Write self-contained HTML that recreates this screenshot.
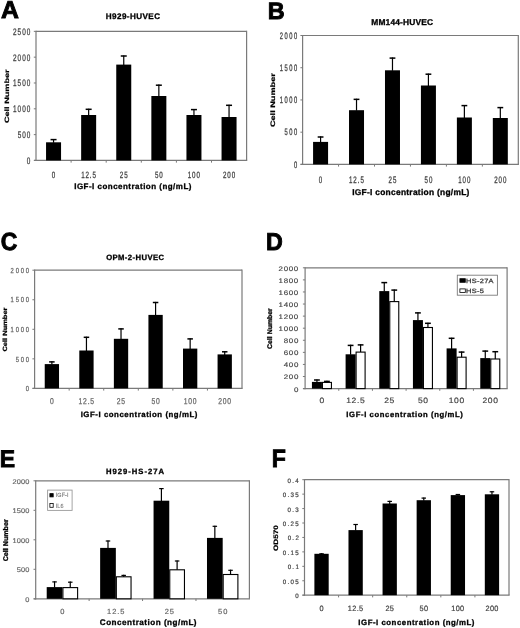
<!DOCTYPE html>
<html><head><meta charset="utf-8"><style>
html,body{margin:0;padding:0;background:#fff;}
svg{display:block;font-family:"Liberation Sans", sans-serif;will-change:transform;text-rendering:geometricPrecision;filter:blur(0.4px);}
</style></head><body>
<svg width="520" height="628" viewBox="0 0 520 628">
<rect width="520" height="628" fill="#fff"/>
<line x1="36.00" y1="31.35" x2="246.60" y2="31.35" stroke="#7a7a7a" stroke-width="1.2"/>
<line x1="246.60" y1="30.75" x2="246.60" y2="160.45" stroke="#7a7a7a" stroke-width="1.2"/>
<line x1="36.00" y1="30.75" x2="36.00" y2="161.05" stroke="#7a7a7a" stroke-width="1.2"/>
<line x1="34.00" y1="160.45" x2="247.20" y2="160.45" stroke="#7a7a7a" stroke-width="1.2"/>
<line x1="33.80" y1="160.45" x2="36.00" y2="160.45" stroke="#7a7a7a" stroke-width="1"/>
<text transform="translate(26.70,163.86) scale(0.6800,1)" font-size="9.437" fill="#444" letter-spacing="1.422" stroke="#444" stroke-width="0.294">0</text>
<line x1="33.80" y1="134.63" x2="36.00" y2="134.63" stroke="#7a7a7a" stroke-width="1"/>
<text transform="translate(17.64,138.04) scale(0.6800,1)" font-size="9.437" fill="#444" letter-spacing="1.422" stroke="#444" stroke-width="0.294">500</text>
<line x1="33.80" y1="108.81" x2="36.00" y2="108.81" stroke="#7a7a7a" stroke-width="1"/>
<text transform="translate(13.08,112.22) scale(0.6800,1)" font-size="9.437" fill="#444" letter-spacing="1.422" stroke="#444" stroke-width="0.294">1000</text>
<line x1="33.80" y1="82.99" x2="36.00" y2="82.99" stroke="#7a7a7a" stroke-width="1"/>
<text transform="translate(13.08,86.40) scale(0.6800,1)" font-size="9.437" fill="#444" letter-spacing="1.422" stroke="#444" stroke-width="0.294">1500</text>
<line x1="33.80" y1="57.17" x2="36.00" y2="57.17" stroke="#7a7a7a" stroke-width="1"/>
<text transform="translate(13.08,60.58) scale(0.6800,1)" font-size="9.437" fill="#444" letter-spacing="1.422" stroke="#444" stroke-width="0.294">2000</text>
<line x1="33.80" y1="31.35" x2="36.00" y2="31.35" stroke="#7a7a7a" stroke-width="1"/>
<text transform="translate(13.08,34.76) scale(0.6800,1)" font-size="9.437" fill="#444" letter-spacing="1.422" stroke="#444" stroke-width="0.294">2500</text>
<line x1="71.10" y1="160.45" x2="71.10" y2="162.65" stroke="#7a7a7a" stroke-width="1"/>
<line x1="106.20" y1="160.45" x2="106.20" y2="162.65" stroke="#7a7a7a" stroke-width="1"/>
<line x1="141.30" y1="160.45" x2="141.30" y2="162.65" stroke="#7a7a7a" stroke-width="1"/>
<line x1="176.40" y1="160.45" x2="176.40" y2="162.65" stroke="#7a7a7a" stroke-width="1"/>
<line x1="211.50" y1="160.45" x2="211.50" y2="162.65" stroke="#7a7a7a" stroke-width="1"/>
<rect x="46.05" y="142.30" width="15.00" height="18.15" fill="#000"/>
<line x1="53.55" y1="139.00" x2="53.55" y2="142.80" stroke="#000" stroke-width="1.2"/>
<line x1="50.55" y1="139.60" x2="56.55" y2="139.60" stroke="#000" stroke-width="1.5"/>
<rect x="81.15" y="115.00" width="15.00" height="45.45" fill="#000"/>
<line x1="88.65" y1="108.70" x2="88.65" y2="115.50" stroke="#000" stroke-width="1.2"/>
<line x1="85.65" y1="109.30" x2="91.65" y2="109.30" stroke="#000" stroke-width="1.5"/>
<rect x="116.25" y="64.60" width="15.00" height="95.85" fill="#000"/>
<line x1="123.75" y1="55.40" x2="123.75" y2="65.10" stroke="#000" stroke-width="1.2"/>
<line x1="120.75" y1="56.00" x2="126.75" y2="56.00" stroke="#000" stroke-width="1.5"/>
<rect x="151.35" y="96.00" width="15.00" height="64.45" fill="#000"/>
<line x1="158.85" y1="84.60" x2="158.85" y2="96.50" stroke="#000" stroke-width="1.2"/>
<line x1="155.85" y1="85.20" x2="161.85" y2="85.20" stroke="#000" stroke-width="1.5"/>
<rect x="186.45" y="115.00" width="15.00" height="45.45" fill="#000"/>
<line x1="193.95" y1="109.00" x2="193.95" y2="115.50" stroke="#000" stroke-width="1.2"/>
<line x1="190.95" y1="109.60" x2="196.95" y2="109.60" stroke="#000" stroke-width="1.5"/>
<rect x="221.55" y="117.00" width="15.00" height="43.45" fill="#000"/>
<line x1="229.05" y1="104.70" x2="229.05" y2="117.50" stroke="#000" stroke-width="1.2"/>
<line x1="226.05" y1="105.30" x2="232.05" y2="105.30" stroke="#000" stroke-width="1.5"/>
<text transform="translate(51.82,177.91) scale(0.6800,1)" font-size="9.155" fill="#444" letter-spacing="1.327" stroke="#444" stroke-width="0.294">0</text>
<text transform="translate(81.13,177.91) scale(0.6800,1)" font-size="9.155" fill="#444" letter-spacing="1.327" stroke="#444" stroke-width="0.294">12.5</text>
<text transform="translate(119.81,177.91) scale(0.6800,1)" font-size="9.155" fill="#444" letter-spacing="1.327" stroke="#444" stroke-width="0.294">25</text>
<text transform="translate(154.94,177.91) scale(0.6800,1)" font-size="9.155" fill="#444" letter-spacing="1.327" stroke="#444" stroke-width="0.294">50</text>
<text transform="translate(187.76,177.91) scale(0.6800,1)" font-size="9.155" fill="#444" letter-spacing="1.327" stroke="#444" stroke-width="0.294">100</text>
<text transform="translate(222.93,177.91) scale(0.6800,1)" font-size="9.155" fill="#444" letter-spacing="1.327" stroke="#444" stroke-width="0.294">200</text>
<text transform="translate(0.98,18.40) scale(1.0207,1)" font-size="24.348" font-weight="bold" fill="#000" stroke="#000" stroke-width="0.9">A</text>
<text transform="translate(105.82,18.75) scale(1.0000,1)" font-size="8.116" font-weight="bold" fill="#000" stroke="#000" stroke-width="0.3" letter-spacing="0.417">H929-HUVEC</text>
<text transform="translate(74.23,188.95) scale(1.0000,1)" font-size="7.971" font-weight="bold" fill="#000" stroke="#000" stroke-width="0.3" letter-spacing="0.488">IGF-I concentration (ng/mL)</text>
<text transform="translate(8.75,123.12) rotate(-90) scale(1.4614,1)" font-size="6.262" font-weight="bold" fill="#000" stroke="#000" stroke-width="0.205">Cell Number</text>
<line x1="302.60" y1="35.50" x2="518.30" y2="35.50" stroke="#7a7a7a" stroke-width="1.2"/>
<line x1="518.30" y1="34.90" x2="518.30" y2="164.40" stroke="#7a7a7a" stroke-width="1.2"/>
<line x1="302.60" y1="34.90" x2="302.60" y2="165.00" stroke="#7a7a7a" stroke-width="1.2"/>
<line x1="300.60" y1="164.40" x2="518.90" y2="164.40" stroke="#7a7a7a" stroke-width="1.2"/>
<line x1="300.40" y1="164.40" x2="302.60" y2="164.40" stroke="#7a7a7a" stroke-width="1"/>
<text transform="translate(294.03,167.71) scale(0.6200,1)" font-size="9.296" fill="#444" letter-spacing="2.471" stroke="#444" stroke-width="0.323">0</text>
<line x1="300.40" y1="132.18" x2="302.60" y2="132.18" stroke="#7a7a7a" stroke-width="1"/>
<text transform="translate(284.57,135.48) scale(0.6200,1)" font-size="9.296" fill="#444" letter-spacing="2.471" stroke="#444" stroke-width="0.323">500</text>
<line x1="300.40" y1="99.95" x2="302.60" y2="99.95" stroke="#7a7a7a" stroke-width="1"/>
<text transform="translate(279.81,103.26) scale(0.6200,1)" font-size="9.296" fill="#444" letter-spacing="2.471" stroke="#444" stroke-width="0.323">1000</text>
<line x1="300.40" y1="67.72" x2="302.60" y2="67.72" stroke="#7a7a7a" stroke-width="1"/>
<text transform="translate(279.81,71.03) scale(0.6200,1)" font-size="9.296" fill="#444" letter-spacing="2.471" stroke="#444" stroke-width="0.323">1500</text>
<line x1="300.40" y1="35.50" x2="302.60" y2="35.50" stroke="#7a7a7a" stroke-width="1"/>
<text transform="translate(279.81,38.81) scale(0.6200,1)" font-size="9.296" fill="#444" letter-spacing="2.471" stroke="#444" stroke-width="0.323">2000</text>
<line x1="338.55" y1="164.40" x2="338.55" y2="166.60" stroke="#7a7a7a" stroke-width="1"/>
<line x1="374.50" y1="164.40" x2="374.50" y2="166.60" stroke="#7a7a7a" stroke-width="1"/>
<line x1="410.45" y1="164.40" x2="410.45" y2="166.60" stroke="#7a7a7a" stroke-width="1"/>
<line x1="446.40" y1="164.40" x2="446.40" y2="166.60" stroke="#7a7a7a" stroke-width="1"/>
<line x1="482.35" y1="164.40" x2="482.35" y2="166.60" stroke="#7a7a7a" stroke-width="1"/>
<rect x="313.08" y="141.90" width="15.00" height="22.50" fill="#000"/>
<line x1="320.58" y1="136.40" x2="320.58" y2="142.40" stroke="#000" stroke-width="1.2"/>
<line x1="317.68" y1="137.00" x2="323.48" y2="137.00" stroke="#000" stroke-width="1.5"/>
<rect x="349.02" y="110.20" width="15.00" height="54.20" fill="#000"/>
<line x1="356.52" y1="98.75" x2="356.52" y2="110.70" stroke="#000" stroke-width="1.2"/>
<line x1="353.62" y1="99.35" x2="359.42" y2="99.35" stroke="#000" stroke-width="1.5"/>
<rect x="384.98" y="70.30" width="15.00" height="94.10" fill="#000"/>
<line x1="392.48" y1="57.50" x2="392.48" y2="70.80" stroke="#000" stroke-width="1.2"/>
<line x1="389.58" y1="58.10" x2="395.38" y2="58.10" stroke="#000" stroke-width="1.5"/>
<rect x="420.92" y="85.50" width="15.00" height="78.90" fill="#000"/>
<line x1="428.42" y1="73.60" x2="428.42" y2="86.00" stroke="#000" stroke-width="1.2"/>
<line x1="425.52" y1="74.20" x2="431.32" y2="74.20" stroke="#000" stroke-width="1.5"/>
<rect x="456.88" y="117.50" width="15.00" height="46.90" fill="#000"/>
<line x1="464.38" y1="105.00" x2="464.38" y2="118.00" stroke="#000" stroke-width="1.2"/>
<line x1="461.48" y1="105.60" x2="467.27" y2="105.60" stroke="#000" stroke-width="1.5"/>
<rect x="492.82" y="118.00" width="15.00" height="46.40" fill="#000"/>
<line x1="500.32" y1="107.00" x2="500.32" y2="118.50" stroke="#000" stroke-width="1.2"/>
<line x1="497.42" y1="107.60" x2="503.22" y2="107.60" stroke="#000" stroke-width="1.5"/>
<text transform="translate(318.87,182.51) scale(0.6500,1)" font-size="9.437" fill="#444" letter-spacing="1.577" stroke="#444" stroke-width="0.308">0</text>
<text transform="translate(348.91,182.51) scale(0.6500,1)" font-size="9.437" fill="#444" letter-spacing="1.577" stroke="#444" stroke-width="0.308">12.5</text>
<text transform="translate(388.53,182.51) scale(0.6500,1)" font-size="9.437" fill="#444" letter-spacing="1.577" stroke="#444" stroke-width="0.308">25</text>
<text transform="translate(424.51,182.51) scale(0.6500,1)" font-size="9.437" fill="#444" letter-spacing="1.577" stroke="#444" stroke-width="0.308">50</text>
<text transform="translate(458.14,182.51) scale(0.6500,1)" font-size="9.437" fill="#444" letter-spacing="1.577" stroke="#444" stroke-width="0.308">100</text>
<text transform="translate(494.16,182.51) scale(0.6500,1)" font-size="9.437" fill="#444" letter-spacing="1.577" stroke="#444" stroke-width="0.308">200</text>
<text transform="translate(267.73,18.75) scale(0.9863,1)" font-size="23.768" font-weight="bold" fill="#000" stroke="#000" stroke-width="0.9">B</text>
<text transform="translate(371.30,25.35) scale(1.0000,1)" font-size="8.406" font-weight="bold" fill="#000" stroke="#000" stroke-width="0.3" letter-spacing="0.153">MM144-HUVEC</text>
<text transform="translate(352.20,194.95) scale(1.0000,1)" font-size="8.406" font-weight="bold" fill="#000" stroke="#000" stroke-width="0.3" letter-spacing="0.274">IGF-I concentration (ng/mL)</text>
<text transform="translate(274.95,127.12) rotate(-90) scale(1.4170,1)" font-size="6.483" font-weight="bold" fill="#000" stroke="#000" stroke-width="0.212">Cell Number</text>
<line x1="34.60" y1="270.20" x2="242.00" y2="270.20" stroke="#7a7a7a" stroke-width="1.2"/>
<line x1="242.00" y1="269.60" x2="242.00" y2="388.40" stroke="#7a7a7a" stroke-width="1.2"/>
<line x1="34.60" y1="269.60" x2="34.60" y2="389.00" stroke="#7a7a7a" stroke-width="1.2"/>
<line x1="32.60" y1="388.40" x2="242.60" y2="388.40" stroke="#7a7a7a" stroke-width="1.2"/>
<line x1="32.40" y1="388.40" x2="34.60" y2="388.40" stroke="#7a7a7a" stroke-width="1"/>
<text transform="translate(25.68,391.13) scale(0.8000,1)" font-size="7.324" fill="#666" letter-spacing="2.204" stroke="#666" stroke-width="0.250">0</text>
<line x1="32.40" y1="358.85" x2="34.60" y2="358.85" stroke="#7a7a7a" stroke-width="1"/>
<text transform="translate(15.65,361.58) scale(0.8000,1)" font-size="7.324" fill="#666" letter-spacing="2.204" stroke="#666" stroke-width="0.250">500</text>
<line x1="32.40" y1="329.30" x2="34.60" y2="329.30" stroke="#7a7a7a" stroke-width="1"/>
<text transform="translate(10.61,332.03) scale(0.8000,1)" font-size="7.324" fill="#666" letter-spacing="2.204" stroke="#666" stroke-width="0.250">1000</text>
<line x1="32.40" y1="299.75" x2="34.60" y2="299.75" stroke="#7a7a7a" stroke-width="1"/>
<text transform="translate(10.61,302.48) scale(0.8000,1)" font-size="7.324" fill="#666" letter-spacing="2.204" stroke="#666" stroke-width="0.250">1500</text>
<line x1="32.40" y1="270.20" x2="34.60" y2="270.20" stroke="#7a7a7a" stroke-width="1"/>
<text transform="translate(10.61,272.93) scale(0.8000,1)" font-size="7.324" fill="#666" letter-spacing="2.204" stroke="#666" stroke-width="0.250">2000</text>
<line x1="69.17" y1="388.40" x2="69.17" y2="390.60" stroke="#7a7a7a" stroke-width="1"/>
<line x1="103.73" y1="388.40" x2="103.73" y2="390.60" stroke="#7a7a7a" stroke-width="1"/>
<line x1="138.30" y1="388.40" x2="138.30" y2="390.60" stroke="#7a7a7a" stroke-width="1"/>
<line x1="172.87" y1="388.40" x2="172.87" y2="390.60" stroke="#7a7a7a" stroke-width="1"/>
<line x1="207.43" y1="388.40" x2="207.43" y2="390.60" stroke="#7a7a7a" stroke-width="1"/>
<rect x="44.73" y="364.10" width="14.30" height="24.30" fill="#000"/>
<line x1="51.88" y1="361.30" x2="51.88" y2="364.60" stroke="#000" stroke-width="1.2"/>
<line x1="49.13" y1="361.90" x2="54.63" y2="361.90" stroke="#000" stroke-width="1.5"/>
<rect x="79.30" y="350.50" width="14.30" height="37.90" fill="#000"/>
<line x1="86.45" y1="336.70" x2="86.45" y2="351.00" stroke="#000" stroke-width="1.2"/>
<line x1="83.70" y1="337.30" x2="89.20" y2="337.30" stroke="#000" stroke-width="1.5"/>
<rect x="113.87" y="338.80" width="14.30" height="49.60" fill="#000"/>
<line x1="121.02" y1="328.30" x2="121.02" y2="339.30" stroke="#000" stroke-width="1.2"/>
<line x1="118.27" y1="328.90" x2="123.77" y2="328.90" stroke="#000" stroke-width="1.5"/>
<rect x="148.43" y="314.90" width="14.30" height="73.50" fill="#000"/>
<line x1="155.58" y1="301.90" x2="155.58" y2="315.40" stroke="#000" stroke-width="1.2"/>
<line x1="152.83" y1="302.50" x2="158.33" y2="302.50" stroke="#000" stroke-width="1.5"/>
<rect x="183.00" y="348.60" width="14.30" height="39.80" fill="#000"/>
<line x1="190.15" y1="338.30" x2="190.15" y2="349.10" stroke="#000" stroke-width="1.2"/>
<line x1="187.40" y1="338.90" x2="192.90" y2="338.90" stroke="#000" stroke-width="1.5"/>
<rect x="217.57" y="354.40" width="14.30" height="34.00" fill="#000"/>
<line x1="224.72" y1="351.20" x2="224.72" y2="354.90" stroke="#000" stroke-width="1.2"/>
<line x1="221.97" y1="351.80" x2="227.47" y2="351.80" stroke="#000" stroke-width="1.5"/>
<text transform="translate(50.01,403.82) scale(0.8000,1)" font-size="8.451" fill="#666" letter-spacing="0.970" stroke="#666" stroke-width="0.250">0</text>
<text transform="translate(78.59,403.82) scale(0.8000,1)" font-size="8.451" fill="#666" letter-spacing="0.970" stroke="#666" stroke-width="0.250">12.5</text>
<text transform="translate(116.84,403.82) scale(0.8000,1)" font-size="8.451" fill="#666" letter-spacing="0.970" stroke="#666" stroke-width="0.250">25</text>
<text transform="translate(151.44,403.82) scale(0.8000,1)" font-size="8.451" fill="#666" letter-spacing="0.970" stroke="#666" stroke-width="0.250">50</text>
<text transform="translate(183.63,403.82) scale(0.8000,1)" font-size="8.451" fill="#666" letter-spacing="0.970" stroke="#666" stroke-width="0.250">100</text>
<text transform="translate(218.28,403.82) scale(0.8000,1)" font-size="8.451" fill="#666" letter-spacing="0.970" stroke="#666" stroke-width="0.250">200</text>
<text transform="translate(0.68,250.00) scale(0.9269,1)" font-size="24.789" font-weight="bold" fill="#000" stroke="#000" stroke-width="0.9">C</text>
<text transform="translate(106.14,259.65) scale(1.0000,1)" font-size="7.681" font-weight="bold" fill="#000" stroke="#000" stroke-width="0.3" letter-spacing="0.413">OPM-2-HUVEC</text>
<text transform="translate(80.64,416.75) scale(1.0000,1)" font-size="7.826" font-weight="bold" fill="#000" stroke="#000" stroke-width="0.3" letter-spacing="0.548">IGF-I concentration (ng/mL)</text>
<text transform="translate(6.75,351.55) rotate(-90) scale(1.2369,1)" font-size="6.069" font-weight="bold" fill="#000" stroke="#000" stroke-width="0.243">Cell Number</text>
<line x1="305.10" y1="267.80" x2="507.10" y2="267.80" stroke="#7a7a7a" stroke-width="1.2"/>
<line x1="507.10" y1="267.20" x2="507.10" y2="388.60" stroke="#7a7a7a" stroke-width="1.2"/>
<line x1="305.10" y1="267.20" x2="305.10" y2="389.20" stroke="#7a7a7a" stroke-width="1.2"/>
<line x1="303.10" y1="388.60" x2="507.70" y2="388.60" stroke="#7a7a7a" stroke-width="1.2"/>
<line x1="302.90" y1="388.60" x2="305.10" y2="388.60" stroke="#7a7a7a" stroke-width="1"/>
<text transform="translate(293.91,391.53) scale(1.2000,1)" font-size="6.620" fill="#444" letter-spacing="0.567" stroke="#444" stroke-width="0.167">0</text>
<line x1="302.90" y1="376.52" x2="305.10" y2="376.52" stroke="#7a7a7a" stroke-width="1"/>
<text transform="translate(283.73,379.45) scale(1.2000,1)" font-size="6.620" fill="#444" letter-spacing="0.567" stroke="#444" stroke-width="0.167">200</text>
<line x1="302.90" y1="364.44" x2="305.10" y2="364.44" stroke="#7a7a7a" stroke-width="1"/>
<text transform="translate(283.73,367.37) scale(1.2000,1)" font-size="6.620" fill="#444" letter-spacing="0.567" stroke="#444" stroke-width="0.167">400</text>
<line x1="302.90" y1="352.36" x2="305.10" y2="352.36" stroke="#7a7a7a" stroke-width="1"/>
<text transform="translate(283.73,355.29) scale(1.2000,1)" font-size="6.620" fill="#444" letter-spacing="0.567" stroke="#444" stroke-width="0.167">600</text>
<line x1="302.90" y1="340.28" x2="305.10" y2="340.28" stroke="#7a7a7a" stroke-width="1"/>
<text transform="translate(283.73,343.21) scale(1.2000,1)" font-size="6.620" fill="#444" letter-spacing="0.567" stroke="#444" stroke-width="0.167">800</text>
<line x1="302.90" y1="328.20" x2="305.10" y2="328.20" stroke="#7a7a7a" stroke-width="1"/>
<text transform="translate(278.60,331.13) scale(1.2000,1)" font-size="6.620" fill="#444" letter-spacing="0.567" stroke="#444" stroke-width="0.167">1000</text>
<line x1="302.90" y1="316.12" x2="305.10" y2="316.12" stroke="#7a7a7a" stroke-width="1"/>
<text transform="translate(278.60,319.05) scale(1.2000,1)" font-size="6.620" fill="#444" letter-spacing="0.567" stroke="#444" stroke-width="0.167">1200</text>
<line x1="302.90" y1="304.04" x2="305.10" y2="304.04" stroke="#7a7a7a" stroke-width="1"/>
<text transform="translate(278.60,306.97) scale(1.2000,1)" font-size="6.620" fill="#444" letter-spacing="0.567" stroke="#444" stroke-width="0.167">1400</text>
<line x1="302.90" y1="291.96" x2="305.10" y2="291.96" stroke="#7a7a7a" stroke-width="1"/>
<text transform="translate(278.60,294.89) scale(1.2000,1)" font-size="6.620" fill="#444" letter-spacing="0.567" stroke="#444" stroke-width="0.167">1600</text>
<line x1="302.90" y1="279.88" x2="305.10" y2="279.88" stroke="#7a7a7a" stroke-width="1"/>
<text transform="translate(278.60,282.81) scale(1.2000,1)" font-size="6.620" fill="#444" letter-spacing="0.567" stroke="#444" stroke-width="0.167">1800</text>
<line x1="302.90" y1="267.80" x2="305.10" y2="267.80" stroke="#7a7a7a" stroke-width="1"/>
<text transform="translate(278.60,270.73) scale(1.2000,1)" font-size="6.620" fill="#444" letter-spacing="0.567" stroke="#444" stroke-width="0.167">2000</text>
<line x1="338.77" y1="388.60" x2="338.77" y2="390.80" stroke="#7a7a7a" stroke-width="1"/>
<line x1="372.43" y1="388.60" x2="372.43" y2="390.80" stroke="#7a7a7a" stroke-width="1"/>
<line x1="406.10" y1="388.60" x2="406.10" y2="390.80" stroke="#7a7a7a" stroke-width="1"/>
<line x1="439.77" y1="388.60" x2="439.77" y2="390.80" stroke="#7a7a7a" stroke-width="1"/>
<line x1="473.43" y1="388.60" x2="473.43" y2="390.80" stroke="#7a7a7a" stroke-width="1"/>
<rect x="311.93" y="381.90" width="10.00" height="6.70" fill="#000"/>
<line x1="316.93" y1="379.40" x2="316.93" y2="382.40" stroke="#000" stroke-width="1.2"/>
<line x1="314.03" y1="380.00" x2="319.83" y2="380.00" stroke="#000" stroke-width="1.5"/>
<rect x="345.60" y="354.30" width="10.00" height="34.30" fill="#000"/>
<line x1="350.60" y1="344.80" x2="350.60" y2="354.80" stroke="#000" stroke-width="1.2"/>
<line x1="347.70" y1="345.40" x2="353.50" y2="345.40" stroke="#000" stroke-width="1.5"/>
<rect x="379.27" y="291.10" width="10.00" height="97.50" fill="#000"/>
<line x1="384.27" y1="282.00" x2="384.27" y2="291.60" stroke="#000" stroke-width="1.2"/>
<line x1="381.37" y1="282.60" x2="387.17" y2="282.60" stroke="#000" stroke-width="1.5"/>
<rect x="412.93" y="320.10" width="10.00" height="68.50" fill="#000"/>
<line x1="417.93" y1="312.30" x2="417.93" y2="320.60" stroke="#000" stroke-width="1.2"/>
<line x1="415.03" y1="312.90" x2="420.83" y2="312.90" stroke="#000" stroke-width="1.5"/>
<rect x="446.60" y="348.40" width="10.00" height="40.20" fill="#000"/>
<line x1="451.60" y1="337.70" x2="451.60" y2="348.90" stroke="#000" stroke-width="1.2"/>
<line x1="448.70" y1="338.30" x2="454.50" y2="338.30" stroke="#000" stroke-width="1.5"/>
<rect x="480.27" y="358.10" width="10.00" height="30.50" fill="#000"/>
<line x1="485.27" y1="350.50" x2="485.27" y2="358.60" stroke="#000" stroke-width="1.2"/>
<line x1="482.37" y1="351.10" x2="488.17" y2="351.10" stroke="#000" stroke-width="1.5"/>
<rect x="322.43" y="382.40" width="9.00" height="6.20" fill="#fff" stroke="#000" stroke-width="1.1"/>
<line x1="326.93" y1="380.80" x2="326.93" y2="382.40" stroke="#000" stroke-width="1.2"/>
<line x1="324.03" y1="381.40" x2="329.83" y2="381.40" stroke="#000" stroke-width="1.5"/>
<rect x="356.10" y="352.10" width="9.00" height="36.50" fill="#fff" stroke="#000" stroke-width="1.1"/>
<line x1="360.60" y1="344.30" x2="360.60" y2="352.10" stroke="#000" stroke-width="1.2"/>
<line x1="357.70" y1="344.90" x2="363.50" y2="344.90" stroke="#000" stroke-width="1.5"/>
<rect x="389.77" y="301.60" width="9.00" height="87.00" fill="#fff" stroke="#000" stroke-width="1.1"/>
<line x1="394.27" y1="289.50" x2="394.27" y2="301.60" stroke="#000" stroke-width="1.2"/>
<line x1="391.37" y1="290.10" x2="397.17" y2="290.10" stroke="#000" stroke-width="1.5"/>
<rect x="423.43" y="327.50" width="9.00" height="61.10" fill="#fff" stroke="#000" stroke-width="1.1"/>
<line x1="427.93" y1="322.70" x2="427.93" y2="327.50" stroke="#000" stroke-width="1.2"/>
<line x1="425.03" y1="323.30" x2="430.83" y2="323.30" stroke="#000" stroke-width="1.5"/>
<rect x="457.10" y="357.20" width="9.00" height="31.40" fill="#fff" stroke="#000" stroke-width="1.1"/>
<line x1="461.60" y1="351.50" x2="461.60" y2="357.20" stroke="#000" stroke-width="1.2"/>
<line x1="458.70" y1="352.10" x2="464.50" y2="352.10" stroke="#000" stroke-width="1.5"/>
<rect x="490.77" y="359.00" width="9.00" height="29.60" fill="#fff" stroke="#000" stroke-width="1.1"/>
<line x1="495.27" y1="351.10" x2="495.27" y2="359.00" stroke="#000" stroke-width="1.2"/>
<line x1="492.37" y1="351.70" x2="498.17" y2="351.70" stroke="#000" stroke-width="1.5"/>
<text transform="translate(319.57,402.52) scale(1.1000,1)" font-size="7.746" fill="#444" letter-spacing="0.578" stroke="#444" stroke-width="0.182">0</text>
<text transform="translate(346.21,402.52) scale(1.1000,1)" font-size="7.746" fill="#444" letter-spacing="0.578" stroke="#444" stroke-width="0.182">12.5</text>
<text transform="translate(384.18,402.52) scale(1.1000,1)" font-size="7.746" fill="#444" letter-spacing="0.578" stroke="#444" stroke-width="0.182">25</text>
<text transform="translate(417.89,402.52) scale(1.1000,1)" font-size="7.746" fill="#444" letter-spacing="0.578" stroke="#444" stroke-width="0.182">50</text>
<text transform="translate(448.72,402.52) scale(1.1000,1)" font-size="7.746" fill="#444" letter-spacing="0.578" stroke="#444" stroke-width="0.182">100</text>
<text transform="translate(482.49,402.52) scale(1.1000,1)" font-size="7.746" fill="#444" letter-spacing="0.578" stroke="#444" stroke-width="0.182">200</text>
<text transform="translate(266.04,250.25) scale(0.9550,1)" font-size="24.348" font-weight="bold" fill="#000" stroke="#000" stroke-width="0.9">D</text>
<text transform="translate(346.35,417.05) scale(1.0000,1)" font-size="7.681" font-weight="bold" fill="#000" stroke="#000" stroke-width="0.3" letter-spacing="0.609">IGF-I concentration (ng/mL)</text>
<text transform="translate(272.35,348.93) rotate(-90) scale(1.0244,1)" font-size="6.759" font-weight="bold" fill="#000" stroke="#000" stroke-width="0.293">Cell Number</text>
<rect x="457.30" y="275.20" width="40.10" height="20.00" fill="#fff" stroke="#7a7a7a" stroke-width="0.9"/>
<rect x="459.90" y="278.70" width="5.40" height="3.60" fill="#000" stroke="#000" stroke-width="0.8"/>
<text transform="translate(466.11,282.64) scale(1.2000,1)" font-size="6.197" fill="#333" letter-spacing="0.244" stroke="#333" stroke-width="0.250">HS-27A</text>
<rect x="459.90" y="288.90" width="5.40" height="3.50" fill="#fff" stroke="#000" stroke-width="0.8"/>
<text transform="translate(466.11,292.74) scale(1.2000,1)" font-size="6.197" fill="#333" letter-spacing="0.244" stroke="#333" stroke-width="0.250">HS-5</text>
<line x1="35.70" y1="480.80" x2="249.40" y2="480.80" stroke="#7a7a7a" stroke-width="1.2"/>
<line x1="249.40" y1="480.20" x2="249.40" y2="598.80" stroke="#7a7a7a" stroke-width="1.2"/>
<line x1="35.70" y1="480.20" x2="35.70" y2="599.40" stroke="#7a7a7a" stroke-width="1.2"/>
<line x1="33.70" y1="598.80" x2="250.00" y2="598.80" stroke="#7a7a7a" stroke-width="1.2"/>
<line x1="33.50" y1="598.80" x2="35.70" y2="598.80" stroke="#7a7a7a" stroke-width="1"/>
<text transform="translate(25.17,601.63) scale(1.1000,1)" font-size="6.761" fill="#666" letter-spacing="0.098" stroke="#666" stroke-width="0.182">0</text>
<line x1="33.50" y1="569.30" x2="35.70" y2="569.30" stroke="#7a7a7a" stroke-width="1"/>
<text transform="translate(16.70,572.13) scale(1.1000,1)" font-size="6.761" fill="#666" letter-spacing="0.098" stroke="#666" stroke-width="0.182">500</text>
<line x1="33.50" y1="539.80" x2="35.70" y2="539.80" stroke="#7a7a7a" stroke-width="1"/>
<text transform="translate(12.43,542.63) scale(1.1000,1)" font-size="6.761" fill="#666" letter-spacing="0.098" stroke="#666" stroke-width="0.182">1000</text>
<line x1="33.50" y1="510.30" x2="35.70" y2="510.30" stroke="#7a7a7a" stroke-width="1"/>
<text transform="translate(12.43,513.13) scale(1.1000,1)" font-size="6.761" fill="#666" letter-spacing="0.098" stroke="#666" stroke-width="0.182">1500</text>
<line x1="33.50" y1="480.80" x2="35.70" y2="480.80" stroke="#7a7a7a" stroke-width="1"/>
<text transform="translate(12.43,483.63) scale(1.1000,1)" font-size="6.761" fill="#666" letter-spacing="0.098" stroke="#666" stroke-width="0.182">2000</text>
<line x1="89.12" y1="598.80" x2="89.12" y2="601.00" stroke="#7a7a7a" stroke-width="1"/>
<line x1="142.55" y1="598.80" x2="142.55" y2="601.00" stroke="#7a7a7a" stroke-width="1"/>
<line x1="195.97" y1="598.80" x2="195.97" y2="601.00" stroke="#7a7a7a" stroke-width="1"/>
<rect x="46.71" y="587.10" width="15.70" height="11.70" fill="#000"/>
<line x1="54.56" y1="581.30" x2="54.56" y2="587.60" stroke="#000" stroke-width="1.2"/>
<line x1="52.31" y1="581.90" x2="56.81" y2="581.90" stroke="#000" stroke-width="1.2"/>
<rect x="100.14" y="547.90" width="15.70" height="50.90" fill="#000"/>
<line x1="107.99" y1="540.40" x2="107.99" y2="548.40" stroke="#000" stroke-width="1.2"/>
<line x1="105.74" y1="541.00" x2="110.24" y2="541.00" stroke="#000" stroke-width="1.2"/>
<rect x="153.56" y="500.70" width="15.70" height="98.10" fill="#000"/>
<line x1="161.41" y1="488.00" x2="161.41" y2="501.20" stroke="#000" stroke-width="1.2"/>
<line x1="159.16" y1="488.60" x2="163.66" y2="488.60" stroke="#000" stroke-width="1.2"/>
<rect x="206.99" y="537.90" width="15.70" height="60.90" fill="#000"/>
<line x1="214.84" y1="525.70" x2="214.84" y2="538.40" stroke="#000" stroke-width="1.2"/>
<line x1="212.59" y1="526.30" x2="217.09" y2="526.30" stroke="#000" stroke-width="1.2"/>
<rect x="62.91" y="587.60" width="14.70" height="11.20" fill="#fff" stroke="#000" stroke-width="1.1"/>
<line x1="70.26" y1="581.60" x2="70.26" y2="587.60" stroke="#000" stroke-width="1.2"/>
<line x1="68.01" y1="582.20" x2="72.51" y2="582.20" stroke="#000" stroke-width="1.2"/>
<rect x="116.34" y="576.80" width="14.70" height="22.00" fill="#fff" stroke="#000" stroke-width="1.1"/>
<line x1="123.69" y1="574.80" x2="123.69" y2="576.80" stroke="#000" stroke-width="1.2"/>
<line x1="121.44" y1="575.40" x2="125.94" y2="575.40" stroke="#000" stroke-width="1.2"/>
<rect x="169.76" y="569.80" width="14.70" height="29.00" fill="#fff" stroke="#000" stroke-width="1.1"/>
<line x1="177.11" y1="560.40" x2="177.11" y2="569.80" stroke="#000" stroke-width="1.2"/>
<line x1="174.86" y1="561.00" x2="179.36" y2="561.00" stroke="#000" stroke-width="1.2"/>
<rect x="223.19" y="574.50" width="14.70" height="24.30" fill="#fff" stroke="#000" stroke-width="1.1"/>
<line x1="230.54" y1="569.70" x2="230.54" y2="574.50" stroke="#000" stroke-width="1.2"/>
<line x1="228.29" y1="570.30" x2="232.79" y2="570.30" stroke="#000" stroke-width="1.2"/>
<text transform="translate(60.34,613.83) scale(1.0000,1)" font-size="7.465" fill="#666" letter-spacing="0.913" stroke="#666" stroke-width="0.200">0</text>
<text transform="translate(107.08,613.83) scale(1.0000,1)" font-size="7.465" fill="#666" letter-spacing="0.913" stroke="#666" stroke-width="0.200">12.5</text>
<text transform="translate(164.63,613.83) scale(1.0000,1)" font-size="7.465" fill="#666" letter-spacing="0.913" stroke="#666" stroke-width="0.200">25</text>
<text transform="translate(218.09,613.83) scale(1.0000,1)" font-size="7.465" fill="#666" letter-spacing="0.913" stroke="#666" stroke-width="0.200">50</text>
<text transform="translate(-0.15,466.55) scale(0.9564,1)" font-size="24.058" font-weight="bold" fill="#000" stroke="#000" stroke-width="0.9">E</text>
<text transform="translate(105.95,473.75) scale(1.0000,1)" font-size="7.681" font-weight="bold" fill="#000" stroke="#000" stroke-width="0.3" letter-spacing="0.985">H929-HS-27A</text>
<text transform="translate(99.83,624.95) scale(1.0000,1)" font-size="8.116" font-weight="bold" fill="#000" stroke="#000" stroke-width="0.3" letter-spacing="0.489">Concentration (ng/mL)</text>
<text transform="translate(7.55,561.34) rotate(-90) scale(1.0387,1)" font-size="6.897" font-weight="bold" fill="#000" stroke="#000" stroke-width="0.289">Cell Number</text>
<rect x="47.60" y="490.10" width="24.50" height="20.30" fill="#fff" stroke="#9a9a9a" stroke-width="0.9"/>
<rect x="49.90" y="493.60" width="3.30" height="3.30" fill="#000" stroke="#000" stroke-width="0.8"/>
<text transform="translate(55.71,497.24) scale(0.9000,1)" font-size="6.056" fill="#777" letter-spacing="0.106" stroke="#777" stroke-width="0.111">IGF-I</text>
<rect x="49.90" y="503.50" width="3.30" height="3.80" fill="#fff" stroke="#000" stroke-width="0.8"/>
<text transform="translate(55.71,507.64) scale(0.9000,1)" font-size="6.056" fill="#777" letter-spacing="0.106" stroke="#777" stroke-width="0.111">IL6</text>
<line x1="304.50" y1="479.70" x2="509.00" y2="479.70" stroke="#7a7a7a" stroke-width="1.2"/>
<line x1="509.00" y1="479.10" x2="509.00" y2="595.20" stroke="#7a7a7a" stroke-width="1.2"/>
<line x1="304.50" y1="479.10" x2="304.50" y2="595.80" stroke="#7a7a7a" stroke-width="1.2"/>
<line x1="302.50" y1="595.20" x2="509.60" y2="595.20" stroke="#7a7a7a" stroke-width="1.2"/>
<line x1="302.30" y1="595.20" x2="304.50" y2="595.20" stroke="#7a7a7a" stroke-width="1"/>
<text transform="translate(295.33,598.14) scale(0.9500,1)" font-size="6.479" fill="#444" letter-spacing="1.376" stroke="#444" stroke-width="0.211">0</text>
<line x1="302.30" y1="580.76" x2="304.50" y2="580.76" stroke="#7a7a7a" stroke-width="1"/>
<text transform="translate(282.85,583.70) scale(0.9500,1)" font-size="6.479" fill="#444" letter-spacing="1.376" stroke="#444" stroke-width="0.211">0.05</text>
<line x1="302.30" y1="566.33" x2="304.50" y2="566.33" stroke="#7a7a7a" stroke-width="1"/>
<text transform="translate(287.64,569.26) scale(0.9500,1)" font-size="6.479" fill="#444" letter-spacing="1.376" stroke="#444" stroke-width="0.211">0.1</text>
<line x1="302.30" y1="551.89" x2="304.50" y2="551.89" stroke="#7a7a7a" stroke-width="1"/>
<text transform="translate(282.85,554.82) scale(0.9500,1)" font-size="6.479" fill="#444" letter-spacing="1.376" stroke="#444" stroke-width="0.211">0.15</text>
<line x1="302.30" y1="537.45" x2="304.50" y2="537.45" stroke="#7a7a7a" stroke-width="1"/>
<text transform="translate(287.64,540.39) scale(0.9500,1)" font-size="6.479" fill="#444" letter-spacing="1.376" stroke="#444" stroke-width="0.211">0.2</text>
<line x1="302.30" y1="523.01" x2="304.50" y2="523.01" stroke="#7a7a7a" stroke-width="1"/>
<text transform="translate(282.85,525.95) scale(0.9500,1)" font-size="6.479" fill="#444" letter-spacing="1.376" stroke="#444" stroke-width="0.211">0.25</text>
<line x1="302.30" y1="508.57" x2="304.50" y2="508.57" stroke="#7a7a7a" stroke-width="1"/>
<text transform="translate(287.61,511.51) scale(0.9500,1)" font-size="6.479" fill="#444" letter-spacing="1.376" stroke="#444" stroke-width="0.211">0.3</text>
<line x1="302.30" y1="494.14" x2="304.50" y2="494.14" stroke="#7a7a7a" stroke-width="1"/>
<text transform="translate(282.85,497.07) scale(0.9500,1)" font-size="6.479" fill="#444" letter-spacing="1.376" stroke="#444" stroke-width="0.211">0.35</text>
<line x1="302.30" y1="479.70" x2="304.50" y2="479.70" stroke="#7a7a7a" stroke-width="1"/>
<text transform="translate(287.52,482.64) scale(0.9500,1)" font-size="6.479" fill="#444" letter-spacing="1.376" stroke="#444" stroke-width="0.211">0.4</text>
<line x1="338.58" y1="595.20" x2="338.58" y2="597.40" stroke="#7a7a7a" stroke-width="1"/>
<line x1="372.67" y1="595.20" x2="372.67" y2="597.40" stroke="#7a7a7a" stroke-width="1"/>
<line x1="406.75" y1="595.20" x2="406.75" y2="597.40" stroke="#7a7a7a" stroke-width="1"/>
<line x1="440.83" y1="595.20" x2="440.83" y2="597.40" stroke="#7a7a7a" stroke-width="1"/>
<line x1="474.92" y1="595.20" x2="474.92" y2="597.40" stroke="#7a7a7a" stroke-width="1"/>
<rect x="314.39" y="553.80" width="14.30" height="41.40" fill="#000"/>
<line x1="321.54" y1="553.20" x2="321.54" y2="554.30" stroke="#000" stroke-width="1.2"/>
<line x1="319.29" y1="553.80" x2="323.79" y2="553.80" stroke="#000" stroke-width="1.2"/>
<rect x="348.48" y="530.10" width="14.30" height="65.10" fill="#000"/>
<line x1="355.62" y1="523.90" x2="355.62" y2="530.60" stroke="#000" stroke-width="1.2"/>
<line x1="353.38" y1="524.50" x2="357.88" y2="524.50" stroke="#000" stroke-width="1.2"/>
<rect x="382.56" y="503.50" width="14.30" height="91.70" fill="#000"/>
<line x1="389.71" y1="500.80" x2="389.71" y2="504.00" stroke="#000" stroke-width="1.2"/>
<line x1="387.46" y1="501.40" x2="391.96" y2="501.40" stroke="#000" stroke-width="1.2"/>
<rect x="416.64" y="500.20" width="14.30" height="95.00" fill="#000"/>
<line x1="423.79" y1="497.50" x2="423.79" y2="500.70" stroke="#000" stroke-width="1.2"/>
<line x1="421.54" y1="498.10" x2="426.04" y2="498.10" stroke="#000" stroke-width="1.2"/>
<rect x="450.73" y="495.10" width="14.30" height="100.10" fill="#000"/>
<line x1="457.88" y1="493.90" x2="457.88" y2="495.60" stroke="#000" stroke-width="1.2"/>
<line x1="455.62" y1="494.50" x2="460.12" y2="494.50" stroke="#000" stroke-width="1.2"/>
<rect x="484.81" y="494.30" width="14.30" height="100.90" fill="#000"/>
<line x1="491.96" y1="491.20" x2="491.96" y2="494.80" stroke="#000" stroke-width="1.2"/>
<line x1="489.71" y1="491.80" x2="494.21" y2="491.80" stroke="#000" stroke-width="1.2"/>
<text transform="translate(319.50,610.72) scale(0.9500,1)" font-size="7.746" fill="#444" letter-spacing="0.327" stroke="#444" stroke-width="0.211">0</text>
<text transform="translate(347.87,610.72) scale(0.9500,1)" font-size="7.746" fill="#444" letter-spacing="0.327" stroke="#444" stroke-width="0.211">12.5</text>
<text transform="translate(385.43,610.72) scale(0.9500,1)" font-size="7.746" fill="#444" letter-spacing="0.327" stroke="#444" stroke-width="0.211">25</text>
<text transform="translate(419.55,610.72) scale(0.9500,1)" font-size="7.746" fill="#444" letter-spacing="0.327" stroke="#444" stroke-width="0.211">50</text>
<text transform="translate(451.31,610.72) scale(0.9500,1)" font-size="7.746" fill="#444" letter-spacing="0.327" stroke="#444" stroke-width="0.211">100</text>
<text transform="translate(485.48,610.72) scale(0.9500,1)" font-size="7.746" fill="#444" letter-spacing="0.327" stroke="#444" stroke-width="0.211">200</text>
<text transform="translate(271.65,466.75) scale(0.9228,1)" font-size="25.072" font-weight="bold" fill="#000" stroke="#000" stroke-width="0.9">F</text>
<text transform="translate(358.34,625.05) scale(1.0000,1)" font-size="7.826" font-weight="bold" fill="#000" stroke="#000" stroke-width="0.3" letter-spacing="0.525">IGF-I concentration (ng/mL)</text>
<text transform="translate(278.15,550.98) rotate(-90) scale(1.2656,1)" font-size="6.429" font-weight="bold" fill="#000" stroke="#000" stroke-width="0.237">OD570</text>
</svg></body></html>
